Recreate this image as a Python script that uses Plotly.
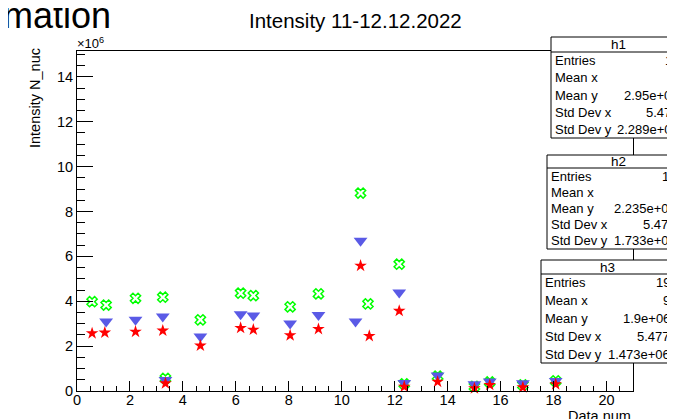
import plotly.graph_objects as go

# ---------------- data (y in units of 1e6) ----------------
x_green = [0.57, 1.10, 2.21, 3.24, 3.34, 4.66, 6.18, 6.66, 8.05, 9.12, 10.71, 10.99, 12.17, 12.36, 13.62, 15.01, 15.59, 16.84, 18.08]
y_green = [3.98, 3.83, 4.13, 4.18, 0.56, 3.17, 4.36, 4.25, 3.75, 4.33, 8.82, 3.88, 5.65, 0.32, 0.66, 0.20, 0.40, 0.27, 0.45]

x_blue = [1.10, 2.21, 3.24, 3.34, 4.66, 6.18, 6.66, 8.05, 9.12, 10.52, 10.71, 12.17, 12.36, 13.62, 15.01, 15.59, 16.84, 18.08]
y_blue = [3.10, 3.17, 3.32, 0.49, 2.43, 3.42, 3.36, 3.01, 3.39, 3.10, 6.70, 4.39, 0.36, 0.69, 0.30, 0.42, 0.35, 0.45]

x_red = [0.57, 1.05, 2.21, 3.24, 3.34, 4.66, 6.18, 6.66, 8.05, 9.12, 10.71, 11.04, 12.17, 12.36, 13.62, 15.01, 15.59, 16.84, 18.08]
y_red = [2.57, 2.60, 2.64, 2.69, 0.34, 2.02, 2.81, 2.73, 2.48, 2.76, 5.58, 2.45, 3.57, 0.19, 0.41, 0.12, 0.27, 0.16, 0.30]

stat_labels = ["Entries", "Mean x", "Mean y", "Std Dev x", "Std Dev y"]
h1_values = ["19", "9", "2.95e+06", "5.477", "2.289e+06"]
h2_values = ["19", "9", "2.235e+06", "5.477", "1.733e+06"]
h3_values = ["19", "9", "1.9e+06", "5.477", "1.473e+06"]

title_text = "Intensity 11-12.12.2022"
y_title = "Intensity N_nuc"
x_title = "Data num"

# ---------------- layout geometry ----------------
W, H = 675, 419
OFF = 8  # page body margin offset
L, R, T, B = 69, 50, 43, 36
PW, PH = W - L - R, H - T - B
FONT = "Liberation Sans, Arial, Helvetica, sans-serif"


def px(x):
    return (x - OFF - L) / PW


def py(y):
    return (H - B - (y - OFF)) / PH


fig = go.Figure()
fig.add_trace(go.Scatter(x=x_green, y=y_green, mode="markers", name="h1",
                         marker=dict(symbol="x-open", size=9, color="#00ff00",
                                     line=dict(width=1.5, color="#00ff00")),
                         cliponaxis=False))
fig.add_trace(go.Scatter(x=x_blue, y=y_blue, mode="markers", name="h2",
                         marker=dict(symbol="triangle-down", size=12, color="#5a5ae6", line=dict(width=0)),
                         cliponaxis=False))
fig.add_trace(go.Scatter(x=x_red, y=y_red, mode="markers", name="h3",
                         marker=dict(symbol="star", size=9.5, color="#ff0000", line=dict(width=0)),
                         cliponaxis=False))

axis_common = dict(showgrid=False, zeroline=False, showline=True, linecolor="black",
                   linewidth=1, mirror=True, ticks="inside", tickcolor="black",
                   tickfont=dict(family=FONT, size=14.5, color="black"))
fig.update_xaxes(range=[0, 21], dtick=2, tick0=0, ticklen=10, ticklabelstandoff=-4,
                 minor=dict(ticks="inside", ticklen=5, dtick=0.5, tick0=0, tickcolor="black"),
                 **axis_common)
fig.update_yaxes(range=[0, 15.15], dtick=2, tick0=0, ticklen=16,
                 minor=dict(ticks="inside", ticklen=8, dtick=0.5, tick0=0, tickcolor="black"),
                 **axis_common)

shapes = []
annotations = []


def stat_box(name, values, left, right, top, sep, bottom, val_right):
    shapes.append(dict(type="rect", xref="paper", yref="paper", x0=px(left), x1=px(right),
                       y0=py(bottom), y1=py(top), line=dict(color="black", width=1),
                       fillcolor="white", layer="above"))
    shapes.append(dict(type="line", xref="paper", yref="paper", x0=px(left), x1=px(right),
                       y0=py(sep), y1=py(sep), line=dict(color="black", width=1)))
    annotations.append(dict(text=name, xref="paper", yref="paper", x=px((left + right) / 2),
                            y=py((top + sep) / 2), xanchor="center", yanchor="middle",
                            showarrow=False, font=dict(family=FONT, size=13.5, color="black")))
    rh = (bottom - sep) / len(stat_labels)
    for i, (lab, val) in enumerate(zip(stat_labels, values)):
        yc = sep + rh * (i + 0.5)
        annotations.append(dict(text=lab, xref="paper", yref="paper", x=px(left + 2), y=py(yc),
                                xanchor="left", yanchor="middle", showarrow=False,
                                font=dict(family=FONT, size=13, color="black")))
        annotations.append(dict(text=val, xref="paper", yref="paper", x=px(val_right), y=py(yc),
                                xanchor="right", yanchor="middle", showarrow=False,
                                font=dict(family=FONT, size=13, color="black")))


stat_box("h1", h1_values, 551, 686, 37, 52, 138, 681)
stat_box("h2", h2_values, 547, 690, 155, 168, 249, 678)
stat_box("h3", h3_values, 541, 673, 260, 274, 363, 672)

# titles and other text
annotations.append(dict(text=title_text, xref="paper", yref="paper", x=px(355), y=py(20),
                        xanchor="center", yanchor="middle", showarrow=False,
                        font=dict(family=FONT, size=20.5, color="black")))
annotations.append(dict(text="mation", xref="paper", yref="paper", x=px(113), y=py(16),
                        xanchor="right", yanchor="middle", showarrow=False,
                        font=dict(family=FONT, size=36, color="black")))
annotations.append(dict(text=y_title, xref="paper", yref="paper", x=px(35), y=py(46),
                        xanchor="center", yanchor="top", textangle=-90, showarrow=False,
                        font=dict(family=FONT, size=14.5, color="black")))
annotations.append(dict(text=x_title, xref="paper", yref="paper", x=px(633), y=py(406),
                        xanchor="right", yanchor="top", showarrow=False,
                        font=dict(family=FONT, size=14.5, color="black")))
annotations.append(dict(text="\u00d710<sup>6</sup>", xref="paper", yref="paper", x=px(75), y=py(53),
                        xanchor="left", yanchor="bottom", showarrow=False,
                        font=dict(family=FONT, size=13, color="black")))

fig.update_layout(width=W, height=H, margin=dict(l=L, r=R, t=T, b=B, pad=0),
                  paper_bgcolor="white", plot_bgcolor="white", showlegend=False,
                  shapes=shapes, annotations=annotations)

fig.write_html("out.html")
